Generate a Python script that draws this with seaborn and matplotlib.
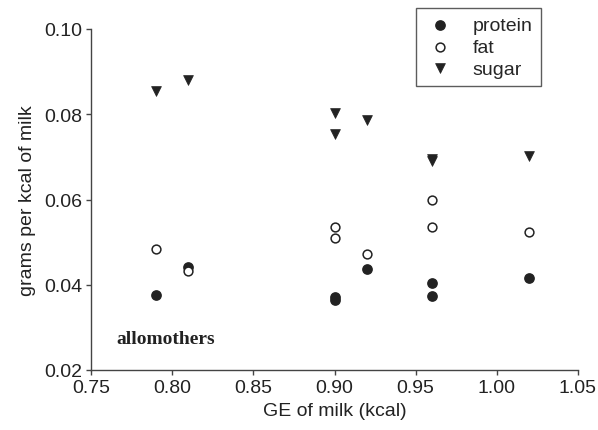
import seaborn as sns
import pandas as pd
import matplotlib.pyplot as plt

# GE of milk (kcal) and grams per kcal
ge_protein = [0.79, 0.81, 0.90, 0.90, 0.92, 0.96, 0.96, 1.02]
protein = [0.0375, 0.0441, 0.0371, 0.0364, 0.0436, 0.0403, 0.0373, 0.0415]

ge_fat = [0.79, 0.81, 0.90, 0.90, 0.92, 0.96, 0.96, 1.02]
fat = [0.0483, 0.0432, 0.0535, 0.0509, 0.0471, 0.0598, 0.0535, 0.0523]

ge_sugar = [0.79, 0.81, 0.90, 0.90, 0.92, 0.96, 0.96, 1.02]
sugar = [0.0855, 0.0880, 0.0803, 0.0754, 0.0787, 0.0694, 0.0690, 0.0703]

sns.set_style("ticks")
plt.rcParams['font.family'] = ['Liberation Sans', 'DejaVu Sans']

fig = plt.figure(figsize=(5.98, 4.31), dpi=100)
ax = fig.add_axes([91 / 598, 1 - 371 / 431, 487 / 598, 341 / 431])

sns.scatterplot(x=ge_protein, y=protein, ax=ax, marker='o', s=45,
                color='#222222', edgecolor='#222222', linewidth=1, label='protein')
sns.scatterplot(x=ge_fat, y=fat, ax=ax, marker='o', s=40,
                facecolor='white', edgecolor='#222222', linewidth=1.1, label='fat')
sns.scatterplot(x=ge_sugar, y=sugar, ax=ax, marker='v', s=50,
                color='#222222', edgecolor='#222222', linewidth=0.5, label='sugar')

ax.set_xlim(0.75, 1.05)
ax.set_ylim(0.02, 0.10)
ax.set_xticks([0.75, 0.80, 0.85, 0.90, 0.95, 1.00, 1.05])
ax.set_yticks([0.02, 0.04, 0.06, 0.08, 0.10])
ax.xaxis.set_major_formatter(plt.FormatStrFormatter('%.2f'))
ax.yaxis.set_major_formatter(plt.FormatStrFormatter('%.2f'))
ax.tick_params(labelsize=14, length=3.5, width=1, pad=3, color='#444444', labelcolor='#222222')
for s in ['left', 'bottom']:
    ax.spines[s].set_color('#444444')
    ax.spines[s].set_linewidth(1)
sns.despine(ax=ax)

ax.set_xlabel("GE of milk (kcal)", fontsize=14, color='#222222', labelpad=4)
ax.set_ylabel("grams per kcal of milk", fontsize=14, color='#222222', labelpad=6)

ax.text(0.7654, 0.0275, "allomothers", fontsize=14, fontweight='bold',
        family='Liberation Serif', va='center', color='#222222')

leg = ax.legend(loc='upper left', bbox_to_anchor=(416 / 598, 1 - 9 / 431),
                bbox_transform=fig.transFigure, fontsize=14, frameon=True,
                fancybox=False, edgecolor='#333333', handletextpad=0.84,
                borderpad=0.42, labelspacing=0.22, borderaxespad=0,
                handlelength=1.65)
leg.get_frame().set_linewidth(1)

fig.savefig("out.png", dpi=100)
